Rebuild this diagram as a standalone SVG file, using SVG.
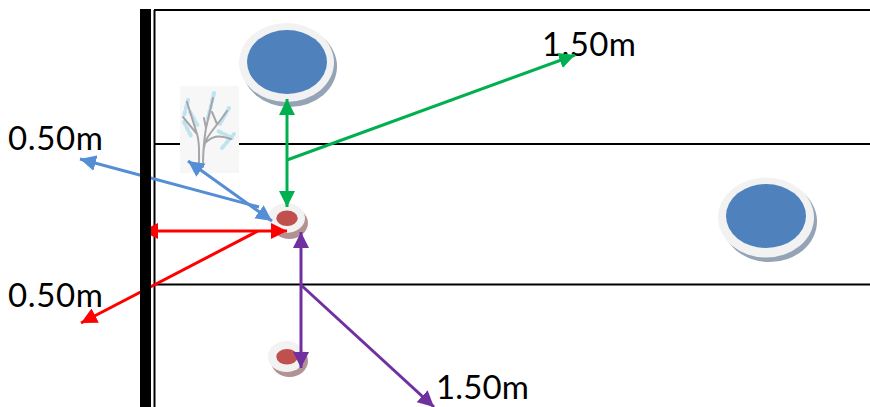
<svg xmlns="http://www.w3.org/2000/svg" width="870" height="407" viewBox="0 0 870 407">
<defs>
<marker id="ag" markerUnits="userSpaceOnUse" markerWidth="17" markerHeight="17" refX="16" refY="8.500" orient="auto-start-reverse"><path d="M0 0.500L16 8.500L0 16.500Z" fill="#00b050"/></marker>
<marker id="ab" markerUnits="userSpaceOnUse" markerWidth="17" markerHeight="17" refX="16" refY="8.500" orient="auto-start-reverse"><path d="M0 0.500L16 8.500L0 16.500Z" fill="#558ed5"/></marker>
<marker id="ar" markerUnits="userSpaceOnUse" markerWidth="17" markerHeight="17" refX="16" refY="8.500" orient="auto-start-reverse"><path d="M0 0.500L16 8.500L0 16.500Z" fill="#ff0000"/></marker>
<marker id="ap" markerUnits="userSpaceOnUse" markerWidth="17" markerHeight="17" refX="16" refY="8.500" orient="auto-start-reverse"><path d="M0 0.500L16 8.500L0 16.500Z" fill="#7030a0"/></marker>
<filter id="soft" x="-10%" y="-10%" width="120%" height="120%"><feGaussianBlur stdDeviation="0.6"/></filter>
</defs>
<style>
text{font-family:Lato,"Open Sans","Liberation Sans",sans-serif;font-size:33px;fill:#000}
.l{stroke:#000;stroke-width:2;fill:none}
.g{stroke:#00b050;stroke-width:3;fill:none}
.b{stroke:#558ed5;stroke-width:3;fill:none}
.r{stroke:#ff0000;stroke-width:3;fill:none}
.p{stroke:#7030a0;stroke-width:3;fill:none}
.ring{fill:#f2f2f2}
.sb{fill:#95a3b6}
.sr{fill:#b39293}
.ib{fill:#4f81bd}
.ir{fill:#c0504d}
.tr{fill:none;stroke:#a5a5aa;stroke-linecap:round}
.tl{fill:none;stroke:#bfe3ef;stroke-linecap:round}
</style>
<g id="lanes">
<path class="l" d="M154.500 10V407M154 10H870M154 144H870M154 284.500H870"/>
</g>
<g id="tree">
<rect x="180" y="86" width="59" height="87" fill="#f7f7f7"/>
<g filter="url(#soft)">
<path class="tl" stroke-width="4" stroke-dasharray="3 3" d="M188 100L184 116M214 93L208 118M229 108L220 124M184 122L192 138M232 138L216 130M222 148L234 134M190 112L198 126"/>
<path class="tr" stroke-width="2" d="M199 167C199 152 200 143 197 134L183 117M203 167C203 150 204 140 206 128L213 98M204 148C204 138 214 130 227 111M205 143C214 134 222 136 231 139M197 134L187 102M206 128L204 118M217 124L212 112"/>
</g>
</g>
<g id="pool-top">
<ellipse class="sb" cx="289.500" cy="66.500" rx="47.500" ry="40.500"/>
<ellipse class="ring" cx="286.500" cy="62.500" rx="47.500" ry="39.500"/>
<ellipse class="ib" cx="287" cy="62" rx="40" ry="32"/>
</g>
<g id="pool-right">
<ellipse class="sb" cx="769.500" cy="221.500" rx="47.500" ry="40.500"/>
<ellipse class="ring" cx="766" cy="217.500" rx="48" ry="40"/>
<ellipse class="ib" cx="766" cy="216" rx="40" ry="32"/>
</g>
<g id="device-top">
<ellipse class="sr" cx="289.500" cy="223" rx="18.500" ry="16"/>
<ellipse class="ring" cx="286.500" cy="218" rx="18.500" ry="15"/>
<ellipse class="ir" cx="287" cy="218.300" rx="10.700" ry="7.700"/>
</g>
<g id="device-bottom">
<ellipse class="sr" cx="289.500" cy="361" rx="18.500" ry="16"/>
<ellipse class="ring" cx="286.500" cy="356.500" rx="18.500" ry="15.500"/>
<ellipse class="ir" cx="287" cy="356.700" rx="10.700" ry="7.700"/>
</g>
<g id="labels">
<text x="542" y="56" textLength="94">1.50m</text>
<text x="8" y="150" textLength="95">0.50m</text>
<text x="8" y="307" textLength="95">0.50m</text>
<text x="436" y="399" textLength="93">1.50m</text>
</g>
<g id="connectors">
<path class="g" d="M287 99V207" marker-start="url(#ag)" marker-end="url(#ag)"/>
<path class="g" d="M287 160L575 55" marker-end="url(#ag)"/>
<path class="b" d="M259 207L80 159" marker-end="url(#ab)"/>
<path class="b" d="M188 161L272 221" marker-start="url(#ab)" marker-end="url(#ab)"/>
<path class="r" d="M142 231H287" marker-start="url(#ar)" marker-end="url(#ar)"/>
<path class="r" d="M258 231L81 323" marker-end="url(#ar)"/>
<path class="p" d="M301 232V368" marker-start="url(#ap)" marker-end="url(#ap)"/>
<path class="p" d="M301 285L434 407" marker-end="url(#ap)"/>
</g>
<rect id="wall" x="140" y="9" width="11" height="398" fill="#000"/>
</svg>
